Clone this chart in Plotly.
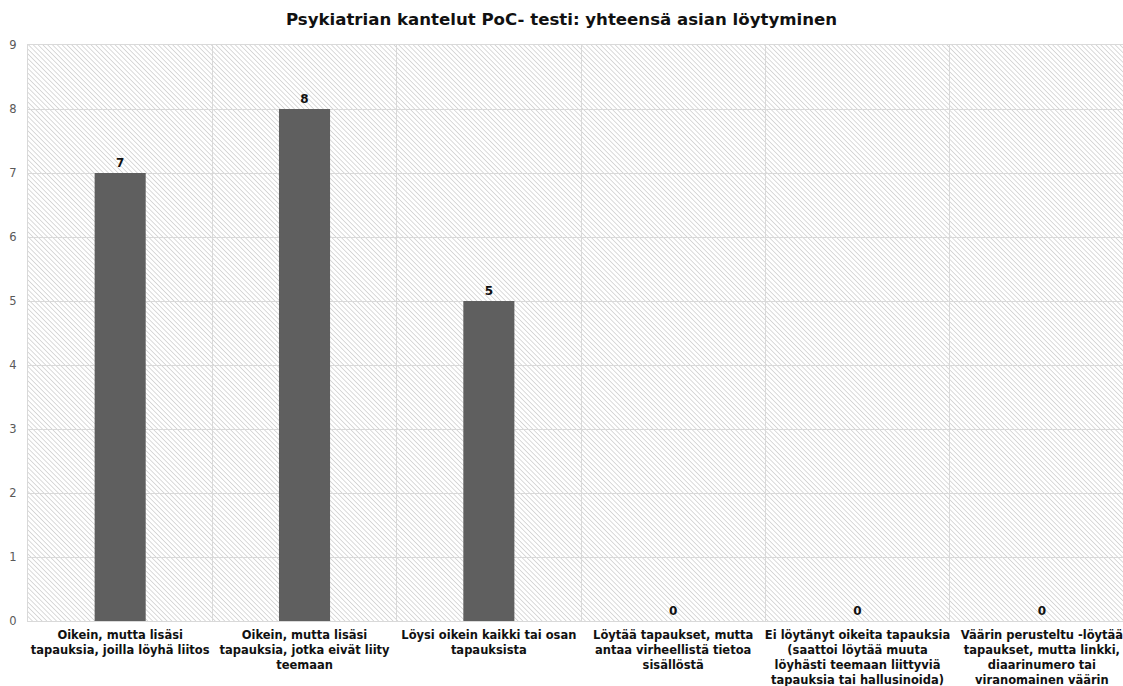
import base64
import plotly.graph_objects as go

# Chart data
categories = [
    "Oikein, mutta lisäsi<br>tapauksia, joilla löyhä liitos",
    "Oikein, mutta lisäsi<br>tapauksia, jotka eivät liity<br>teemaan",
    "Löysi oikein kaikki tai osan<br>tapauksista",
    "Löytää tapaukset, mutta<br>antaa virheellistä tietoa<br>sisällöstä",
    "Ei löytänyt oikeita tapauksia<br>(saattoi löytää muuta<br>löyhästi teemaan liittyviä<br>tapauksia tai hallusinoida)",
    "Väärin perusteltu -löytää<br>tapaukset, mutta linkki,<br>diaarinumero tai<br>viranomainen väärin",
]
counts = [7, 8, 5, 0, 0, 0]
y_ticks = list(range(0, 10))

TITLE = "Psykiatrian kantelut PoC- testi: yhteensä asian löytyminen"
FONT = "DejaVu Sans, Verdana, sans-serif"

W, H = 1123, 686
M_L, M_R, M_T, M_B = 28, 0, 45, 65
plot_w, plot_h = W - M_L - M_R, H - M_T - M_B

# Diagonal hatch used as the plot-area background
hatch_svg = f"""<svg xmlns='http://www.w3.org/2000/svg' width='{plot_w}' height='{plot_h}'>
<defs><pattern id='h' width='3.4' height='3.4' patternUnits='userSpaceOnUse' patternTransform='rotate(-45)'>
<rect width='3.4' height='3.4' fill='#ffffff'/>
<line x1='0' y1='0' x2='0' y2='3.4' stroke='#d2d2d2' stroke-width='1.6'/>
</pattern></defs>
<rect width='100%' height='100%' fill='url(#h)'/>
</svg>"""
hatch_uri = "data:image/svg+xml;base64," + base64.b64encode(hatch_svg.encode("utf-8")).decode("ascii")

# x tick labels rendered in bold
bold_labels = [f"<b>{c}</b>" for c in categories]

fig = go.Figure(
    go.Bar(
        x=categories,
        y=counts,
        width=0.277,
        marker=dict(color="#5f5f5f", line=dict(width=0)),
        text=counts,
        texttemplate="<b>%{text}</b>",
        textposition="outside",
        textfont=dict(family=FONT, size=12, color="#111111"),
        cliponaxis=False,
        hoverinfo="skip",
    )
)

fig.update_layout(
    width=W,
    height=H,
    margin=dict(l=M_L, r=M_R, t=M_T, b=M_B, autoexpand=False),
    paper_bgcolor="white",
    plot_bgcolor="rgba(0,0,0,0)",
    showlegend=False,
    title=dict(
        text=f"<b>{TITLE}</b>",
        x=0.5,
        xanchor="center",
        y=1 - 19 / H,
        yanchor="middle",
        font=dict(family=FONT, size=16.6, color="#111111"),
    ),
    images=[
        dict(
            source=hatch_uri,
            xref="paper",
            yref="paper",
            x=0,
            y=1,
            sizex=1,
            sizey=1,
            xanchor="left",
            yanchor="top",
            sizing="stretch",
            layer="below",
        )
    ],
)

fig.update_xaxes(
    type="category",
    range=[-0.5, 5.44],
    tickson="boundaries",
    tickmode="array",
    tickvals=categories,
    ticktext=bold_labels,
    showgrid=True,
    gridcolor="#d9d9d9",
    gridwidth=1,
    ticks="",
    showline=True,
    linecolor="#d9d9d9",
    mirror=True,
    ticklabelstandoff=3,
    tickfont=dict(family=FONT, size=11.5, color="#111111"),
    tickangle=0,
    automargin=False,
)
fig.update_yaxes(
    range=[0, 9],
    tickvals=y_ticks,
    showgrid=True,
    gridcolor="#d9d9d9",
    gridwidth=1,
    zeroline=False,
    showline=True,
    linecolor="#d9d9d9",
    mirror=True,
    ticks="",
    ticklabelstandoff=8,
    tickfont=dict(family=FONT, size=11.5, color="#595959"),
    automargin=False,
)

fig.write_html("out.html")
